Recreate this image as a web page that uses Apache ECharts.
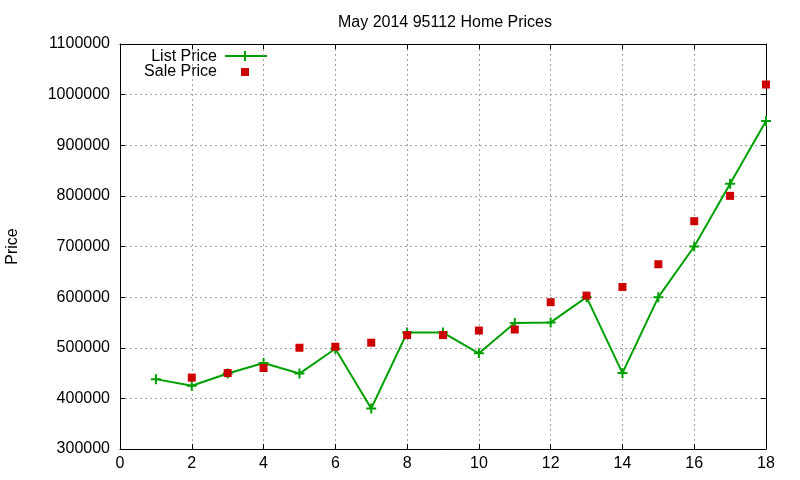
<!DOCTYPE html>
<html>
<head>
<meta charset="utf-8">
<script src="https://cdn.jsdelivr.net/npm/echarts@6/dist/echarts.min.js"></script>
<style>html,body{margin:0;padding:0;background:#fff;}#c{width:800px;height:480px;}</style>
</head>
<body>
<div id="c"></div>
<script>
const titleText = 'May 2014 95112 Home Prices';
const yName = 'Price';
const listName = 'List Price';
const saleName = 'Sale Price';
const listX = [1,2,3,4,5,6,7,8,9,10,11,12,13,14,15,16,17,18];
const listPrice = [438000,425000,449000,470000,449000,498000,380000,530000,530000,489000,549000,550000,600000,450000,600000,700000,824000,948000];
const saleX = [2,3,4,5,6,7,8,9,10,11,12,13,14,15,16,17,18];
const salePrice = [441000,450000,460000,500000,502000,510000,525000,525000,534000,536000,590000,603000,620000,665000,750000,800000,1020000];

const FONT = 'Liberation Sans';
const FS = 16;
const GREEN = '#00a000';
const RED = '#cc0000';
const PLUS = 'path://M4,0h2v4h4v2h-4v4h-2v-4h-4v-2h4z';

const chart = echarts.init(document.getElementById('c'), null, {renderer: 'canvas'});

const axisCommon = {
  axisLine: {show: true, onZero: false, lineStyle: {color: '#000', width: 1}},
  axisTick: {show: true, inside: true, length: 5, lineStyle: {color: '#000'}},
};

chart.setOption({
  animation: false,
  backgroundColor: '#fff',
  title: {
    text: titleText, left: 440, top: 10, textAlign: 'center',
    textStyle: {fontFamily: FONT, fontSize: FS, fontWeight: 'normal', color: '#000'}
  },
  grid: {left: 120, right: 34, top: 44, bottom: 31, containLabel: false, outerBoundsMode: 'none'},
  xAxis: [
    Object.assign({
      type: 'value', min: 0, max: 18, interval: 2, position: 'bottom',
      axisLabel: {fontFamily: FONT, fontSize: FS, color: '#000', margin: 7},
      splitLine: {show: true, lineStyle: {color: '#a0a0a0', type: [2, 3], width: 1}}
    }, axisCommon),
    Object.assign({
      type: 'value', min: 0, max: 18, interval: 2, position: 'top',
      axisLabel: {show: false}, splitLine: {show: false}
    }, axisCommon)
  ],
  yAxis: [
    Object.assign({
      type: 'value', min: 300000, max: 1100000, interval: 100000, position: 'left',
      name: yName, nameLocation: 'middle', nameGap: 99, nameRotate: 90,
      nameTextStyle: {fontFamily: FONT, fontSize: FS, color: '#000'},
      axisLabel: {fontFamily: FONT, fontSize: FS, color: '#000', margin: 10,
                  formatter: v => String(v)},
      splitLine: {show: true, lineStyle: {color: '#a0a0a0', type: [2, 3], width: 1}}
    }, axisCommon),
    Object.assign({
      type: 'value', min: 300000, max: 1100000, interval: 100000, position: 'right',
      axisLabel: {show: false}, splitLine: {show: false}
    }, axisCommon)
  ],
  series: [
    {
      name: listName, type: 'line', xAxisIndex: 0, yAxisIndex: 0,
      data: listX.map((x, i) => [x, listPrice[i]]),
      symbol: PLUS, symbolSize: 10, showSymbol: true,
      lineStyle: {color: GREEN, width: 2},
      itemStyle: {color: GREEN, opacity: 1},
      z: 3
    },
    {
      name: saleName, type: 'scatter', xAxisIndex: 0, yAxisIndex: 0,
      data: saleX.map((x, i) => [x, salePrice[i]]),
      symbol: 'rect', symbolSize: 8,
      itemStyle: {color: RED, opacity: 1},
      z: 4
    }
  ],
  graphic: [
    {type: 'text', right: 800 - 217, top: 49,
     style: {text: listName, font: FS + 'px "' + FONT + '"', fill: '#000'}},
    {type: 'text', right: 800 - 217, top: 64,
     style: {text: saleName, font: FS + 'px "' + FONT + '"', fill: '#000'}},
    {type: 'line', shape: {x1: 225, y1: 56, x2: 267, y2: 56},
     style: {stroke: GREEN, lineWidth: 2}},
    {type: 'rect', shape: {x: 244, y: 51, width: 2, height: 10}, style: {fill: GREEN}},
    {type: 'rect', shape: {x: 241, y: 68, width: 8, height: 8}, style: {fill: RED}}
  ]
});
</script>
</body>
</html>
